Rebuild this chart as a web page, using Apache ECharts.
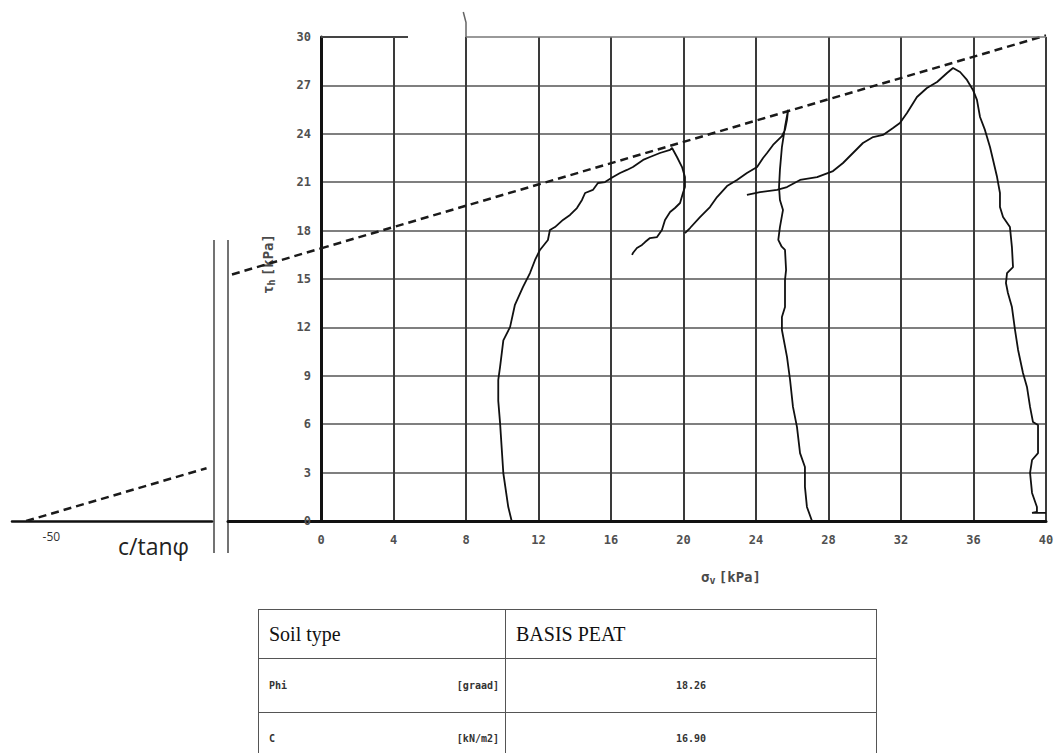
<!DOCTYPE html>
<html>
<head>
<meta charset="utf-8">
<title>BASIS PEAT – τh vs σv</title>
<script src="https://cdn.jsdelivr.net/npm/echarts@6/dist/echarts.min.js"></script>
<style>
  html, body { margin: 0; padding: 0; background: #fff; overflow: hidden; }
  #wrap { position: relative; width: 1062px; height: 753px; overflow: hidden; }
  #chart { position: absolute; left: 0; top: 0; width: 1062px; height: 753px; }
  #params { position: absolute; left: 258px; top: 609px; border-collapse: collapse; table-layout: fixed; }
  #params td { border: 1.5px solid #555; padding: 0; vertical-align: middle; }
  #params .serif { font-family: "Liberation Serif", "DejaVu Serif", serif; font-size: 20px; color: #111; padding-left: 10px; }
  #params .mono { font-family: "DejaVu Sans Mono", monospace; font-size: 10px; color: #333; font-weight: bold; }
  #params .pair { display: flex; justify-content: space-between; padding: 0 6px 0 10px; }
  #params .val { text-align: center; }
</style>
</head>
<body>
<div id="wrap">
  <div id="chart"></div>
  <table id="params">
    <colgroup><col style="width:247px"><col style="width:371px"></colgroup>
    <tbody id="paramsBody"></tbody>
  </table>
</div>
<script>
// Strength parameters of the failure envelope
const soilType = 'BASIS PEAT';
const phiDeg = 18.26;    // friction angle [graad]
const cohesion = 16.90;  // c [kN/m2]

// Axis ranges and tick steps
const sigmaMax = 40, sigmaStep = 4;
const tauMax = 30, tauStep = 3;

// Stress paths (sigma_v [kPa], tau_h [kPa])
const path1 = [[10.52,0],[10.33,0.88],[10.06,2.96],[9.88,6.07],[9.78,7.45],[9.78,8.74],[9.88,9.55],[10.06,11.2],[10.43,12.02],[10.7,13.4],[11.14,14.5],[11.53,15.37],[11.81,16.18],[12.08,16.8],[12.52,17.42],[12.63,18.04],[12.91,18.22],[13.35,18.66],[13.74,18.97],[14.12,19.4],[14.4,19.9],[14.57,20.33],[15.0,20.52],[15.28,20.95],[15.67,21.01],[16.11,21.32],[16.5,21.57],[16.88,21.76],[17.21,21.94],[17.77,22.38],[18.15,22.56],[18.7,22.81],[19.26,23.0],[19.37,23.12],[19.64,22.56],[19.92,21.94],[20.08,21.32],[20.08,20.7],[19.97,20.33],[19.81,19.71],[19.53,19.4],[19.26,19.15],[18.98,18.66],[18.81,18.04],[18.54,17.6],[18.15,17.54],[17.88,17.29],[17.71,17.11],[17.43,16.92],[17.21,16.61],[17.16,16.49]];
const path2 = [[20.08,17.85],[20.36,18.16],[20.91,18.84],[21.46,19.46],[21.85,20.08],[22.4,20.76],[22.95,21.14],[23.5,21.57],[24.06,21.94],[24.39,22.5],[24.61,22.81],[24.94,23.31],[25.43,23.86],[25.6,24.24],[25.71,24.86],[25.77,25.48],[25.6,24.42],[25.43,23.18],[25.32,21.76],[25.27,20.7],[25.32,19.9],[25.49,19.28],[25.32,18.22],[25.23,17.42],[25.42,17.0],[25.6,16.8],[25.66,15.56],[25.6,14.94],[25.6,13.26],[25.43,12.64],[25.43,11.84],[25.71,10.17],[25.88,8.74],[26.04,7.07],[26.26,5.83],[26.43,4.21],[26.7,3.35],[26.7,2.11],[26.81,0.87],[27.09,0]];
const path3 = [[23.5,20.21],[24.22,20.39],[25.16,20.52],[25.71,20.7],[26.43,21.14],[27.37,21.32],[28.25,21.69],[28.8,22.19],[29.35,22.81],[29.9,23.43],[30.46,23.8],[31.01,23.93],[31.56,24.36],[31.94,24.67],[32.33,25.29],[32.88,26.28],[33.43,26.84],[33.99,27.21],[34.54,27.77],[34.87,28.08],[35.26,27.83],[35.64,27.34],[35.97,26.72],[36.19,26.1],[36.36,25.04],[36.63,24.24],[36.91,23.18],[37.08,22.38],[37.3,21.32],[37.46,20.33],[37.46,19.46],[37.63,18.84],[38.01,18.22],[38.12,16.98],[38.18,15.74],[37.85,15.37],[37.79,14.75],[37.9,14.13],[38.12,13.26],[38.29,11.84],[38.46,10.6],[38.73,9.17],[38.95,8.31],[39.12,7.07],[39.28,6.14],[39.56,5.95],[39.56,4.21],[39.23,3.78],[39.12,2.98],[39.23,1.74],[39.5,0.87],[39.5,0.56],[39.23,0.5],[40.0,0.5]];

// Broken sigma axis: far-left piece around the envelope intercept, short piece left of zero
const farRange = [-52, -41];
const nearRange = [-5.13, 0];
const farLabel = -50;
const envelopeBreaks = [-41.3, -4.91];

// Frame pieces of the top border (gap between them) and the over-run of the sigma = 8 line
const topBorderA = [[0, 30], [4.8, 30]];
const topBorderB = [[8, 30], [40, 30]];
const overRun = [[8, 30], [8, 30.9], [7.85, 31.55]];

// Table rows
const tableRows = [
  ['Phi', '[graad]', phiDeg.toFixed(2)],
  ['C', '[kN/m2]', cohesion.toFixed(2)]
];

// Envelope tau = c + sigma * tan(phi)
const tanPhi = Math.tan(phiDeg * Math.PI / 180);
const tauAt = s => cohesion + s * tanPhi;
const sigma0 = -cohesion / tanPhi;
const envFar = [[sigma0, 0], [envelopeBreaks[0], tauAt(envelopeBreaks[0])]];
const envNear = [[envelopeBreaks[1], tauAt(envelopeBreaks[1])], [0, tauAt(0)]];
const envMain = [[0, tauAt(0)], [sigmaMax, tauAt(sigmaMax)]];

// Parameter table
const tb = document.getElementById('paramsBody');
tb.innerHTML =
  '<tr style="height:49px"><td class="serif">Soil type</td><td class="serif">' + soilType + '</td></tr>' +
  tableRows.map((r, i) =>
    '<tr style="height:' + (i === 0 ? 54 : 52) + 'px"><td class="mono"><div class="pair"><span>' + r[0] + '</span><span>' + r[1] +
    '</span></div></td><td class="mono val">' + r[2] + '</td></tr>').join('');

const chart = echarts.init(document.getElementById('chart'), null, { renderer: 'svg' });

const monoLabel = { color: '#505050', fontFamily: 'DejaVu Sans Mono', fontSize: 12, fontWeight: 'bold' };
const dashed = { color: '#1a1a1a', width: 2.5, type: [8, 5] };
const pathStyle = { color: '#111', width: 1.8 };
const gridTop = 37, gridH = 484;
const titleRich = {
  a: { fontFamily: 'DejaVu Sans Mono', fontSize: 14, fontWeight: 'bold', fill: '#4a4a4a' },
  s: { fontFamily: 'DejaVu Sans Mono', fontSize: 10, fontWeight: 'bold', fill: '#4a4a4a', padding: [6, 0, 0, 0] }
};

const option = {
  animation: false,
  backgroundColor: '#fff',
  grid: [
    { left: 12, top: gridTop, width: 200, height: gridH },
    { left: 228, top: gridTop, width: 93, height: gridH },
    { left: 321, top: gridTop, width: 725, height: gridH }
  ],
  xAxis: [
    {
      gridIndex: 0, type: 'value', min: farRange[0], max: farRange[1], interval: 2,
      axisLine: { show: true, onZero: false, lineStyle: { color: '#111', width: 2.5 } },
      axisTick: { show: false }, splitLine: { show: false },
      axisLabel: { color: '#333', fontFamily: 'Open Sans', fontSize: 12, margin: 9, padding: [0, 0, 0, 6],
        formatter: v => (v === farLabel ? String(farLabel) : '') }
    },
    {
      gridIndex: 1, type: 'value', min: nearRange[0], max: nearRange[1],
      axisLine: { show: true, onZero: false, lineStyle: { color: '#111', width: 3 } },
      axisTick: { show: false }, splitLine: { show: false }, axisLabel: { show: false }
    },
    {
      gridIndex: 2, type: 'value', min: 0, max: sigmaMax, interval: sigmaStep,
      axisLine: { show: true, onZero: false, lineStyle: { color: '#111', width: 3 } },
      axisTick: { show: false },
      axisLabel: Object.assign({ margin: 13 }, monoLabel),
      splitLine: { show: true, showMinLine: false, lineStyle: { color: '#3a3a3a', width: 2 } }
    }
  ],
  yAxis: [
    { gridIndex: 0, type: 'value', min: 0, max: tauMax, show: false },
    { gridIndex: 1, type: 'value', min: 0, max: tauMax, show: false },
    {
      gridIndex: 2, type: 'value', min: 0, max: tauMax, interval: tauStep,
      axisLine: { show: true, onZero: false, lineStyle: { color: '#111', width: 3 } },
      axisTick: { show: false },
      axisLabel: Object.assign({ margin: 10 }, monoLabel),
      splitLine: { show: true, showMinLine: false, showMaxLine: false, lineStyle: { color: '#555', width: 1.5 } }
    }
  ],
  series: [
    { type: 'line', xAxisIndex: 0, yAxisIndex: 0, data: envFar, symbol: 'none', lineStyle: dashed },
    { type: 'line', xAxisIndex: 1, yAxisIndex: 1, data: envNear, symbol: 'none', lineStyle: dashed },
    { type: 'line', xAxisIndex: 2, yAxisIndex: 2, data: envMain, symbol: 'none', lineStyle: dashed, clip: false },
    { type: 'line', xAxisIndex: 2, yAxisIndex: 2, data: topBorderA, symbol: 'none', lineStyle: { color: '#444', width: 2 }, clip: false },
    { type: 'line', xAxisIndex: 2, yAxisIndex: 2, data: topBorderB, symbol: 'none', lineStyle: { color: '#777', width: 1.5 }, clip: false },
    { type: 'line', xAxisIndex: 2, yAxisIndex: 2, data: overRun, symbol: 'none', lineStyle: { color: '#666', width: 1.5 }, clip: false },
    { type: 'line', xAxisIndex: 2, yAxisIndex: 2, data: path1, symbol: 'none', lineStyle: pathStyle, clip: false },
    { type: 'line', xAxisIndex: 2, yAxisIndex: 2, data: path2, symbol: 'none', lineStyle: pathStyle, clip: false },
    { type: 'line', xAxisIndex: 2, yAxisIndex: 2, data: path3, symbol: 'none', lineStyle: pathStyle, clip: false }
  ],
  graphic: [
    // axis break bars
    { type: 'line', shape: { x1: 214, y1: 240, x2: 214, y2: 553 }, style: { stroke: '#444', lineWidth: 1.5 } },
    { type: 'line', shape: { x1: 228, y1: 240, x2: 228, y2: 553 }, style: { stroke: '#444', lineWidth: 1.5 } },
    { type: 'text', left: 118, top: 534, style: { text: 'c/tanφ', fill: '#222', font: '23px "Open Sans"' } },
    {
      type: 'text', x: 731, y: 577,
      style: { text: '{a|σ}{s|v} {a|[kPa]}', align: 'center', verticalAlign: 'middle', rich: titleRich }
    },
    {
      type: 'text', x: 268, y: 264, rotation: Math.PI / 2,
      style: { text: '{a|τ}{s|h} {a|[kPa]}', align: 'center', verticalAlign: 'middle', rich: titleRich }
    }
  ]
};

chart.setOption(option);
</script>
</body>
</html>
